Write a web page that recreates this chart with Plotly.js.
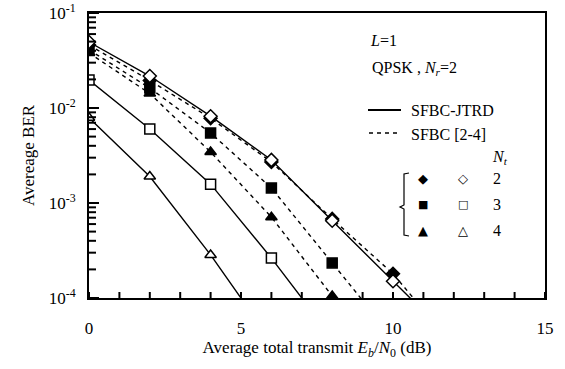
<!DOCTYPE html>
<html>
<head>
<meta charset="utf-8">
<script src="https://cdn.plot.ly/plotly-3.0.1.min.js"></script>
<style>html,body{margin:0;padding:0;background:#fff;}#chart{width:565px;height:369px;}</style>
</head>
<body>
<div id="chart"></div>
<script>
// SNR points (dB)
const snrJtrd2 = [0, 2, 4, 6, 8, 10, 12];
const berJtrd2 = [0.0495, 0.0217, 0.0082, 0.00284, 0.00065, 0.00015, 0.000035];
const snrJtrd3 = [0, 2, 4, 6, 8];
const berJtrd3 = [0.0197, 0.006, 0.00158, 0.000263, 0.000038];
const snrJtrd4 = [0, 2, 4, 6];
const berJtrd4 = [0.0079, 0.0019, 0.000284, 0.000035];

const snrSfbc2 = [0, 2, 4, 6, 8, 10, 12];
const berSfbc2 = [0.046, 0.0195, 0.0078, 0.0027, 0.00068, 0.00018, 0.000031];
const snrSfbc3 = [0, 2, 4, 6, 8, 10];
const berSfbc3 = [0.041, 0.0162, 0.00546, 0.00144, 0.000234, 0.000038];
const snrSfbc4 = [0, 2, 4, 6, 8, 10];
const berSfbc4 = [0.038, 0.0142, 0.00344, 0.00071, 0.000105, 0.000012];

const xTicks = [0, 5, 10, 15];
const xTickText = ['0', '5', '10', '15'];
const xMinor = [1, 2, 3, 4, 6, 7, 8, 9, 11, 12, 13, 14];
const yMajor = [0.0001, 0.001, 0.01, 0.1];
const yMajorText = ['10<sup>-4</sup>','10<sup>-3</sup>','10<sup>-2</sup>','10<sup>-1</sup>'];
const yMinor = [];
[0.0001, 0.001, 0.01].forEach(d => { for (let k = 2; k <= 9; k++) yMinor.push(d * k); });

const serif = 'Liberation Serif, Times New Roman, serif';

function tr(x, y, dash, symbol, filled) {
  return {
    x: x, y: y, type: 'scatter', mode: 'lines+markers',
    line: {color: '#000', width: 1.4, dash: dash},
    marker: {symbol: symbol, size: 10, color: filled ? '#000' : '#fff',
             line: {color: '#000', width: 1.5}},
    showlegend: false, cliponaxis: true
  };
}

const data = [
  tr(snrSfbc2, berSfbc2, '4px,4px', 'diamond', true),
  tr(snrSfbc3, berSfbc3, '4px,4px', 'square', true),
  tr(snrSfbc4, berSfbc4, '4px,4px', 'triangle-up', true),
  tr(snrJtrd2, berJtrd2, 'solid', 'diamond', false),
  tr(snrJtrd3, berJtrd3, 'solid', 'square', false),
  tr(snrJtrd4, berJtrd4, 'solid', 'triangle-up', false)
];

const px = v => (v - 89) / 456;
const py = v => (298 - v) / 285;
const txt = (x, y, text, opts) => Object.assign({xref: 'paper', yref: 'paper', x: px(x), y: py(y), text: text,
  showarrow: false, xanchor: 'left', yanchor: 'middle', font: {family: serif, size: 16, color: '#000'}}, opts || {});
const glyphFont = {family: 'DejaVu Sans', size: 13, color: '#000'};
const sqFont = {family: 'DejaVu Sans', size: 11, color: '#000'};

// tick marks drawn as short shapes on the axes; y positions mapped to paper via log10
const yPaper = v => (Math.log10(v) + 4) / 3;
const tickShapes = [];
yMinor.forEach(v => tickShapes.push({type: 'line', xref: 'paper', yref: 'paper', x0: 0, x1: 7 / 456,
  y0: yPaper(v), y1: yPaper(v), line: {color: '#000', width: 2}}));
yMajor.forEach(v => tickShapes.push({type: 'line', xref: 'paper', yref: 'paper', x0: 0, x1: 10 / 456,
  y0: yPaper(v), y1: yPaper(v), line: {color: '#000', width: 2}}));
xMinor.concat(xTicks).forEach(v => tickShapes.push({type: 'line', xref: 'paper', yref: 'paper', x0: v / 15, x1: v / 15, y0: 0, y1: 6 / 285,
  line: {color: '#000', width: 2}}));

const layout = {
  width: 565, height: 369,
  margin: {l: 89, r: 20, t: 13, b: 71},
  paper_bgcolor: '#fff', plot_bgcolor: '#fff',
  font: {family: serif, size: 16, color: '#000'},
  xaxis: {
    range: [0, 15], tickmode: 'array', tickvals: xTicks, ticktext: xTickText,
    ticks: '', showline: true, linewidth: 2, linecolor: '#000', mirror: true,
    showgrid: false, zeroline: false, ticklabelstandoff: 14,
    tickfont: {family: serif, size: 17},
    title: {text: 'Average total transmit <i>E<sub>b</sub></i>/<i>N</i><sub>0</sub> (dB)', font: {family: serif, size: 17}, standoff: 4}
  },
  yaxis: {
    type: 'log', range: [-4, -1], tickmode: 'array', tickvals: yMajor, ticktext: yMajorText,
    ticks: '', showline: true, linewidth: 2, linecolor: '#000', mirror: true,
    showgrid: false, zeroline: false, ticklabelstandoff: 8,
    tickfont: {family: serif, size: 17},
    title: {text: 'Avereage BER', font: {family: serif, size: 17}, standoff: 10}
  },
  shapes: tickShapes.concat([
    {type: 'line', xref: 'paper', yref: 'paper', x0: px(368), x1: px(401), y0: py(110), y1: py(110), line: {color: '#000', width: 2}},
    {type: 'line', xref: 'paper', yref: 'paper', x0: px(369), x1: px(400), y0: py(133), y1: py(133), line: {color: '#000', width: 1.4, dash: '4px,4px'}},
    {type: 'path', xref: 'paper', yref: 'paper',
     path: 'M' + px(409) + ',' + py(173) + ' L' + px(404) + ',' + py(174) + ' L' + px(404) + ',' + py(205) +
           ' L' + px(400) + ',' + py(207) + ' L' + px(404) + ',' + py(209) + ' L' + px(404) + ',' + py(235) +
           ' L' + px(409) + ',' + py(236),
     line: {color: '#000', width: 1.2}}
  ]),
  annotations: [
    txt(368, 41, '<i>L</i>=1'),
    txt(370, 68, 'QPSK , <i>N<sub>r</sub></i>=2'),
    txt(409, 111, 'SFBC-JTRD'),
    txt(409, 134, 'SFBC [2-4]'),
    txt(490, 157, '<i>N<sub>t</sub></i>'),
    txt(423, 178, '◆', {xanchor: 'center', font: glyphFont}),
    txt(463, 178, '◇', {xanchor: 'center', font: glyphFont}),
    txt(497, 178, '2', {xanchor: 'center'}),
    txt(423, 204, '■', {xanchor: 'center', font: sqFont}),
    txt(463, 204, '□', {xanchor: 'center', font: sqFont}),
    txt(497, 204, '3', {xanchor: 'center'}),
    txt(423, 230, '▲', {xanchor: 'center', font: glyphFont}),
    txt(463, 230, '△', {xanchor: 'center', font: glyphFont}),
    txt(497, 230, '4', {xanchor: 'center'})
  ]
};

Plotly.newPlot('chart', data, layout, {displayModeBar: false, staticPlot: true});
</script>
</body>
</html>
